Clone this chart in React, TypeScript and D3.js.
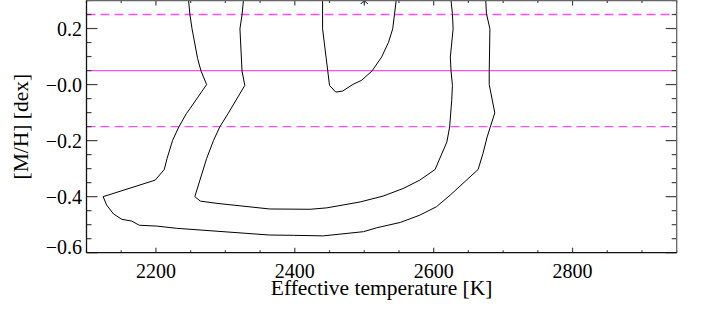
import React from 'react';
import * as d3 from 'd3';

// contour levels: effective temperature [K] and [M/H] [dex]
const outerTeff = [2247, 2249, 2252, 2260, 2265, 2273, 2249, 2244, 2233, 2224, 2216, 2212, 2199, 2124, 2129, 2139, 2151, 2165, 2176, 2201, 2230, 2364, 2398, 2441, 2499, 2518, 2552, 2580, 2604, 2624, 2664, 2671, 2677, 2688, 2680, 2680, 2681, 2676, 2675];
const outerMH = [0.3, 0.249, 0.199, 0.093, 0.048, 0.0, -0.086, -0.103, -0.151, -0.199, -0.264, -0.303, -0.341, -0.4, -0.43, -0.462, -0.481, -0.487, -0.502, -0.505, -0.513, -0.537, -0.538, -0.54, -0.525, -0.511, -0.492, -0.466, -0.436, -0.394, -0.303, -0.246, -0.187, -0.101, 0.0, 0.048, 0.199, 0.253, 0.3];

const innerTeff = [2326, 2324, 2321, 2324, 2328, 2304, 2292, 2283, 2273, 2256, 2264, 2288, 2364, 2422, 2446, 2494, 2527, 2556, 2580, 2602, 2619, 2623, 2626, 2627, 2625, 2624, 2628, 2627, 2625];
const innerMH = [0.3, 0.249, 0.199, 0.048, -0.003, -0.103, -0.151, -0.199, -0.264, -0.4, -0.416, -0.424, -0.444, -0.445, -0.44, -0.419, -0.398, -0.371, -0.341, -0.303, -0.205, -0.151, -0.056, -0.003, 0.048, 0.098, 0.199, 0.253, 0.3];

const peakTeff = [2440, 2440, 2445, 2450, 2459, 2469, 2484, 2496, 2511, 2525, 2535, 2541, 2546];
const peakMH = [0.3, 0.199, 0.098, -0.003, -0.027, -0.023, 0.001, 0.015, 0.048, 0.098, 0.151, 0.199, 0.3];

const bestTeff = 2500;
const bestMH = 0.3;
const refMH = 0.05;
const refMHErr = 0.2;

const xTicks = [2200, 2400, 2600, 2800];
const yTicks = [0.2, 0.0, -0.2, -0.4, -0.6];
const yTickLabels = ['0.2', '\u22120.0', '\u22120.2', '\u22120.4', '\u22120.6'];

const W = 702;
const H = 314;
const left = 86.5, right = 676.7, top = 0.5, bottom = 252.7;
const tickFont = { fontFamily: "'Liberation Serif'", fontSize: 20 };
const titleFont = { fontFamily: "'Liberation Serif'", fontSize: 21.5 };

export default function App() {
    const x = d3.scaleLinear().domain([2100, 2950]).range([left, right]);
    const y = d3.scaleLinear().domain([-0.6, 0.3]).range([bottom, top]);

    const line = d3.line<[number, number]>()
        .x(d => x(d[0]))
        .y(d => y(d[1]));

    const zip = (a: number[], b: number[]) => a.map((v, i) => [v, b[i]] as [number, number]);
    const contours = [zip(outerTeff, outerMH), zip(innerTeff, innerMH), zip(peakTeff, peakMH)];

    const xMinor = d3.range(2100, 2951, 50).filter(t => t % 200 !== 0);
    const yMinor = d3.range(-0.6, 0.301, 0.05).filter(v => Math.abs(Math.round(v * 100)) % 20 !== 0);

    const bx = x(bestTeff), by = y(bestMH), s = 5;

    return (
        <svg width={W} height={H} viewBox={`0 0 ${W} ${H}`}
            style={{ position: 'absolute', left: 0, top: 0, background: '#fff' }}>
            <defs>
                <clipPath id="plot">
                    <rect x={left} y={top} width={right - left} height={bottom - top} />
                </clipPath>
            </defs>

            {/* reference metallicity */}
            <g stroke="#ff4dff" strokeWidth={1.3}>
                <line x1={left} x2={right} y1={y(refMH)} y2={y(refMH)} />
                <line x1={left} x2={right} y1={y(refMH + refMHErr)} y2={y(refMH + refMHErr)} strokeDasharray="9,5" />
                <line x1={left} x2={right} y1={y(refMH - refMHErr)} y2={y(refMH - refMHErr)} strokeDasharray="9,5" />
            </g>

            <g clipPath="url(#plot)" fill="none" stroke="#000" strokeWidth={1}>
                {contours.map((c, i) => <path key={i} d={line(c) ?? ''} />)}
            </g>

            {/* best fit */}
            <g stroke="#000" strokeWidth={1}>
                <line x1={bx - s} x2={bx + s} y1={by} y2={by} />
                <line x1={bx} x2={bx} y1={by - s} y2={by + s} />
                <line x1={bx - s * 0.7} x2={bx + s * 0.7} y1={by - s * 0.7} y2={by + s * 0.7} />
                <line x1={bx - s * 0.7} x2={bx + s * 0.7} y1={by + s * 0.7} y2={by - s * 0.7} />
            </g>

            {/* ticks */}
            <g stroke="#444" strokeWidth={1.2}>
                {xTicks.map(t => <line key={'xb' + t} x1={x(t)} x2={x(t)} y1={bottom} y2={bottom - 5} />)}
                {xMinor.map(t => <line key={'xbm' + t} x1={x(t)} x2={x(t)} y1={bottom} y2={bottom - 2.5} />)}
                {xTicks.map(t => <line key={'xt' + t} x1={x(t)} x2={x(t)} y1={top} y2={top + 5} />)}
                {xMinor.map(t => <line key={'xtm' + t} x1={x(t)} x2={x(t)} y1={top} y2={top + 2.5} />)}
                {yTicks.map(v => <line key={'yl' + v} x1={left} x2={left + 11} y1={y(v)} y2={y(v)} />)}
                {yMinor.map(v => <line key={'ylm' + v} x1={left} x2={left + 5} y1={y(v)} y2={y(v)} />)}
                {yTicks.map(v => <line key={'yr' + v} x1={right} x2={right - 11} y1={y(v)} y2={y(v)} />)}
                {yMinor.map(v => <line key={'yrm' + v} x1={right} x2={right - 5} y1={y(v)} y2={y(v)} />)}
            </g>

            {/* frame */}
            <line x1={left} x2={right} y1={top} y2={top} stroke="#666" strokeWidth={1.3} />
            <line x1={right} x2={right} y1={top} y2={bottom} stroke="#666" strokeWidth={1.3} />
            <line x1={left} x2={left} y1={top} y2={bottom} stroke="#111" strokeWidth={1.3} />
            <line x1={left} x2={right} y1={bottom} y2={bottom} stroke="#111" strokeWidth={1.3} />

            <g fill="#000">
                {xTicks.map(t => (
                    <text key={t} x={x(t)} y={278} textAnchor="middle" style={tickFont}>{t}</text>
                ))}
                {yTicks.map((v, i) => (
                    <text key={v} x={82} y={Math.min(y(v) + 7.5, bottom + 1.3)} textAnchor="end" style={tickFont}>{yTickLabels[i]}</text>
                ))}
                <text x={(left + right) / 2} y={295} textAnchor="middle" style={titleFont}>Effective temperature [K]</text>
                <text transform={`translate(28,${(top + bottom) / 2}) rotate(-90)`} textAnchor="middle" style={titleFont}>[M/H] [dex]</text>
            </g>
        </svg>
    );
}
